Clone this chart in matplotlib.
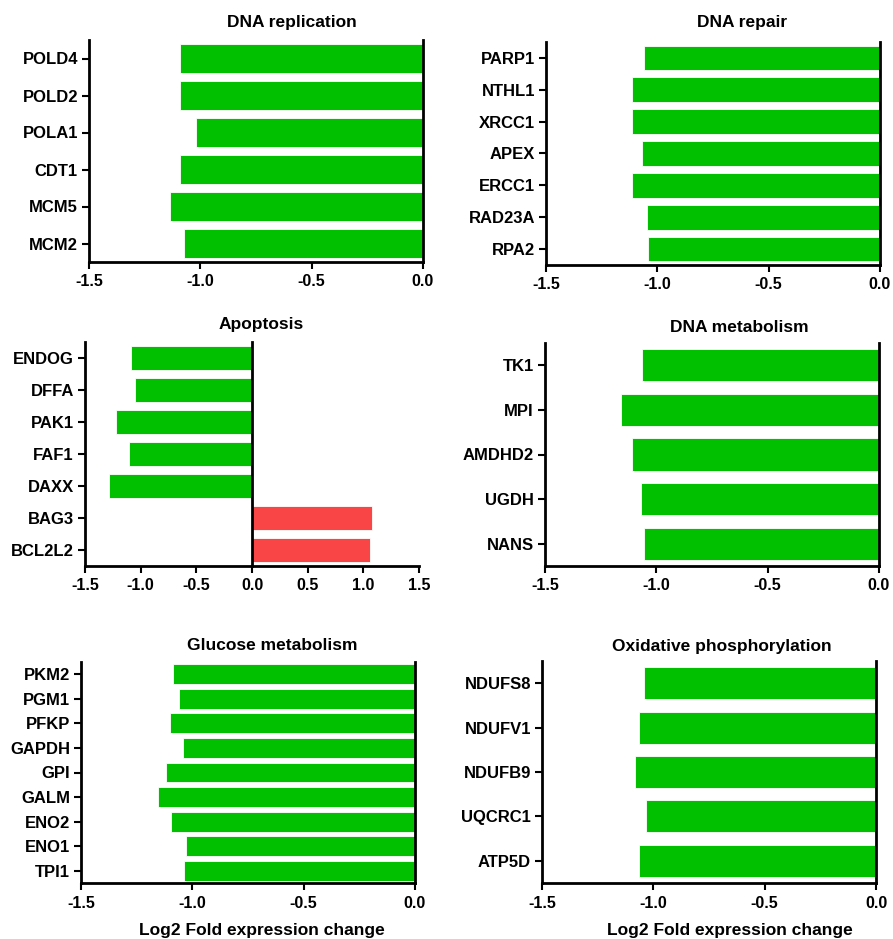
import matplotlib
matplotlib.use("Agg")
import matplotlib.pyplot as plt

plt.rcParams["font.family"] = ["Liberation Sans", "DejaVu Sans"]
plt.rcParams["axes.unicode_minus"] = False

GREEN = "#00C000"
RED = "#F94545"

# ---------------- DATA ----------------
rep_genes = ["POLD4", "POLD2", "POLA1", "CDT1", "MCM5", "MCM2"]
rep_vals = [-1.09, -1.09, -1.02, -1.09, -1.135, -1.075]

repair_genes = ["PARP1", "NTHL1", "XRCC1", "APEX", "ERCC1", "RAD23A", "RPA2"]
repair_vals = [-1.058, -1.115, -1.115, -1.069, -1.115, -1.048, -1.04]

apo_genes = ["ENDOG", "DFFA", "PAK1", "FAF1", "DAXX", "BAG3", "BCL2L2"]
apo_vals = [-1.088, -1.051, -1.222, -1.102, -1.288, 1.078, 1.063]

dnamet_genes = ["TK1", "MPI", "AMDHD2", "UGDH", "NANS"]
dnamet_vals = [-1.063, -1.16, -1.109, -1.067, -1.055]

glu_genes = ["PKM2", "PGM1", "PFKP", "GAPDH", "GPI", "GALM", "ENO2", "ENO1", "TPI1"]
glu_vals = [-1.087, -1.06, -1.102, -1.044, -1.12, -1.156, -1.095, -1.027, -1.036]

ox_genes = ["NDUFS8", "NDUFV1", "NDUFB9", "UQCRC1", "ATP5D"]
ox_vals = [-1.044, -1.063, -1.081, -1.033, -1.063]

W, H = 893, 939
fig = plt.figure(figsize=(W / 100, H / 100), dpi=100)


def panel(box, genes, vals, title, title_xy, xlim, xticks, height, xlabel_xy=None):
    left, right, top, bottom = box
    ax = fig.add_axes([left / W, 1 - bottom / H, (right - left) / W, (bottom - top) / H])
    n = len(genes)
    pos = [n - 1 - i for i in range(n)]
    colors = [GREEN if v < 0 else RED for v in vals]
    ax.barh(pos, vals, height=height, color=colors, edgecolor="white", linewidth=0.6, zorder=2)
    ax.axvline(0, color="black", lw=2, clip_on=False, zorder=3)
    ax.set_xlim(*xlim)
    ax.set_ylim(-0.5, n - 0.5)
    ax.set_xticks(xticks)
    ax.set_xticklabels([f"{t:.1f}" for t in xticks], fontweight="bold", fontsize=11.5)
    ax.set_yticks(pos)
    ax.set_yticklabels(genes, fontweight="bold", fontsize=12)
    for s in ["top", "right"]:
        ax.spines[s].set_visible(False)
    for s in ["left", "bottom"]:
        ax.spines[s].set_linewidth(2)
    ax.tick_params(axis="both", length=5, width=1.5, direction="out")
    ax.tick_params(axis="x", pad=4)
    ax.tick_params(axis="y", pad=3)
    fig.text(title_xy[0] / W, 1 - title_xy[1] / H, title, ha="center", va="center",
             fontsize=12.5, fontweight="bold")
    if xlabel_xy:
        fig.text(xlabel_xy[0] / W, 1 - xlabel_xy[1] / H, "Log2 Fold expression change",
                 ha="center", va="center", fontsize=12.5, fontweight="bold")
    return ax


neg_ticks = [-1.5, -1.0, -0.5, 0.0]

panel((89, 423, 40, 262), rep_genes, rep_vals, "DNA replication", (292, 22),
      (-1.5, 0), neg_ticks, 0.76)
panel((546, 880, 42, 265), repair_genes, repair_vals, "DNA repair", (742, 22),
      (-1.5, 0), neg_ticks, 0.78)
panel((85, 419, 342, 566), apo_genes, apo_vals, "Apoptosis", (261, 325),
      (-1.5, 1.5), [-1.5, -1.0, -0.5, 0.0, 0.5, 1.0, 1.5], 0.76)
panel((545, 879, 343, 566), dnamet_genes, dnamet_vals, "DNA metabolism", (739, 327),
      (-1.5, 0), neg_ticks, 0.72)
panel((81, 415, 662, 883), glu_genes, glu_vals, "Glucose metabolism", (272, 646),
      (-1.5, 0), neg_ticks, 0.81, xlabel_xy=(262, 930))
panel((542, 876, 661, 883), ox_genes, ox_vals, "Oxidative phosphorylation", (722, 646),
      (-1.5, 0), neg_ticks, 0.72, xlabel_xy=(730, 930))

fig.savefig("out.png", dpi=100)
